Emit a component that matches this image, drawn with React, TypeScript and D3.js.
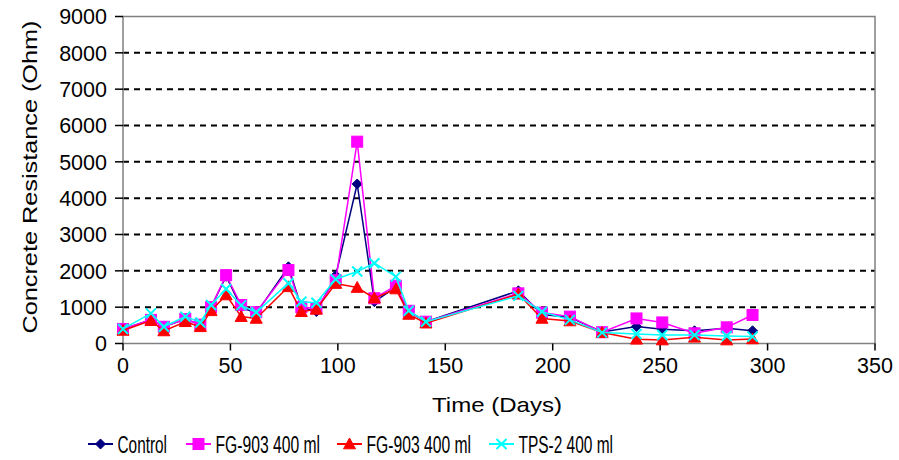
import React from "react";
import * as d3 from "d3";

const days = [0, 13, 19, 29, 36, 41, 48, 55, 62, 77, 83, 90, 99, 109, 117, 127, 133, 141, 184, 195, 208, 223, 239, 251, 266, 281, 293];
const control = [390, 650, 460, 670, 520, 1000, 1850, 1000, 830, 2110, 1000, 880, 1870, 4390, 1150, 1550, 880, 600, 1450, 800, 720, 320, 470, 390, 350, 420, 350];
const fg903a = [400, 650, 460, 670, 520, 1000, 1880, 1060, 860, 2020, 1000, 970, 1740, 5555, 1245, 1590, 900, 600, 1380, 850, 740, 310, 690, 580, 280, 445, 785];
const fg903b = [360, 630, 345, 600, 460, 900, 1335, 740, 690, 1560, 875, 940, 1650, 1540, 1250, 1500, 800, 560, 1360, 690, 620, 300, 115, 95, 170, 95, 125];
const tps2 = [400, 830, 460, 740, 580, 1060, 1500, 1050, 860, 1660, 1150, 1120, 1770, 1980, 2210, 1840, 900, 600, 1310, 875, 650, 300, 260, 235, 235, 205, 190];

const seriesNames = ["Control", "FG-903 400 ml", "FG-903 400 ml", "TPS-2 400 ml"];
const seriesColors = ["#000080", "#FF00FF", "#FF0000", "#00FFFF"];
const seriesMarkers = ["diamond", "square", "triangle", "x"];
const seriesValues = [control, fg903a, fg903b, tps2];

const xTicks = [0, 50, 100, 150, 200, 250, 300, 350];
const yTicks = [0, 1000, 2000, 3000, 4000, 5000, 6000, 7000, 8000, 9000];

const W = 899, H = 460;
const L = 123, R = 875, T = 16.5, B = 343.5;
const FONT = "'Liberation Sans', Arial, sans-serif";

function Marker({ kind, x, y, color }: { kind: string; x: number; y: number; color: string }) {
  if (kind === "diamond") {
    const s = 5;
    return <path d={`M${x},${y - s}L${x + s},${y}L${x},${y + s}L${x - s},${y}Z`} fill={color} stroke={color} strokeWidth={1} />;
  }
  if (kind === "square") {
    const s = 5.5;
    return <rect x={x - s} y={y - s} width={2 * s} height={2 * s} fill={color} stroke={color} strokeWidth={1} />;
  }
  if (kind === "triangle") {
    const s = 6;
    return <path d={`M${x},${y - s}L${x + s},${y + s * 0.8}L${x - s},${y + s * 0.8}Z`} fill={color} stroke={color} strokeWidth={1} />;
  }
  const s = 5;
  return <path d={`M${x - s},${y - s}L${x + s},${y + s}M${x - s},${y + s}L${x + s},${y - s}`} stroke={color} strokeWidth={2} fill="none" />;
}

export default function App() {
  const x = d3.scaleLinear().domain([0, 350]).range([L, R]);
  const y = d3.scaleLinear().domain([0, 9000]).range([B, T]);
  const legendX = [88, 186, 337, 489];
  const legendLen = [49.5, 104.5, 104.5, 94.5];
  const LY = 444;

  return (
    <svg width={W} height={H} style={{ position: "absolute", left: 0, top: 0, background: "#fff" }} fontFamily={FONT}>
      <rect x={0} y={0} width={W} height={H} fill="#fff" />
      {yTicks.filter(t => t > 0 && t < 9000).map(t => (
        <line key={"g" + t} x1={L} x2={R} y1={y(t)} y2={y(t)} stroke="#000" strokeWidth={2} strokeDasharray="6,5" />
      ))}
      <rect x={L} y={T} width={R - L} height={B - T} fill="none" stroke="#808080" strokeWidth={1.5} />
      {yTicks.map(t => (
        <g key={"y" + t}>
          <line x1={L - 8} x2={L} y1={y(t)} y2={y(t)} stroke="#000" strokeWidth={1.5} />
          <text x={L - 16} y={y(t)} dy="0.36em" textAnchor="end" fontSize={21.5} fill="#000">{t}</text>
        </g>
      ))}
      {xTicks.map(t => (
        <g key={"x" + t}>
          <line x1={x(t)} x2={x(t)} y1={B} y2={B + 7} stroke="#000" strokeWidth={1.5} />
          <text x={x(t)} y={B + 29} textAnchor="middle" fontSize={21.5} fill="#000">{t}</text>
        </g>
      ))}
      <text x={432} y={412} fontSize={21} fill="#000" textLength={130} lengthAdjust="spacingAndGlyphs">Time (Days)</text>
      <text transform={`translate(37,177) rotate(-90)`} textAnchor="middle" fontSize={21} fill="#000" textLength={313} lengthAdjust="spacingAndGlyphs">Concrete Resistance (Ohm)</text>
      {seriesValues.map((vals, si) => {
        const line = d3.line<number>().x((_, i) => x(days[i])).y(v => y(v));
        return (
          <g key={"s" + si}>
            <path d={line(vals) || ""} fill="none" stroke={seriesColors[si]} strokeWidth={1.5} />
            {vals.map((v, i) => (
              <Marker key={i} kind={seriesMarkers[si]} x={x(days[i])} y={y(v)} color={seriesColors[si]} />
            ))}
          </g>
        );
      })}
      {seriesNames.map((n, si) => (
        <g key={"l" + si}>
          <line x1={legendX[si]} x2={legendX[si] + 25} y1={LY} y2={LY} stroke={seriesColors[si]} strokeWidth={2} />
          <Marker kind={seriesMarkers[si]} x={legendX[si] + 12.5} y={LY} color={seriesColors[si]} />
          <text x={legendX[si] + 29.5} y={LY + 8.5} fontSize={23.5} fill="#000" textLength={legendLen[si]} lengthAdjust="spacingAndGlyphs">{n}</text>
        </g>
      ))}
    </svg>
  );
}
